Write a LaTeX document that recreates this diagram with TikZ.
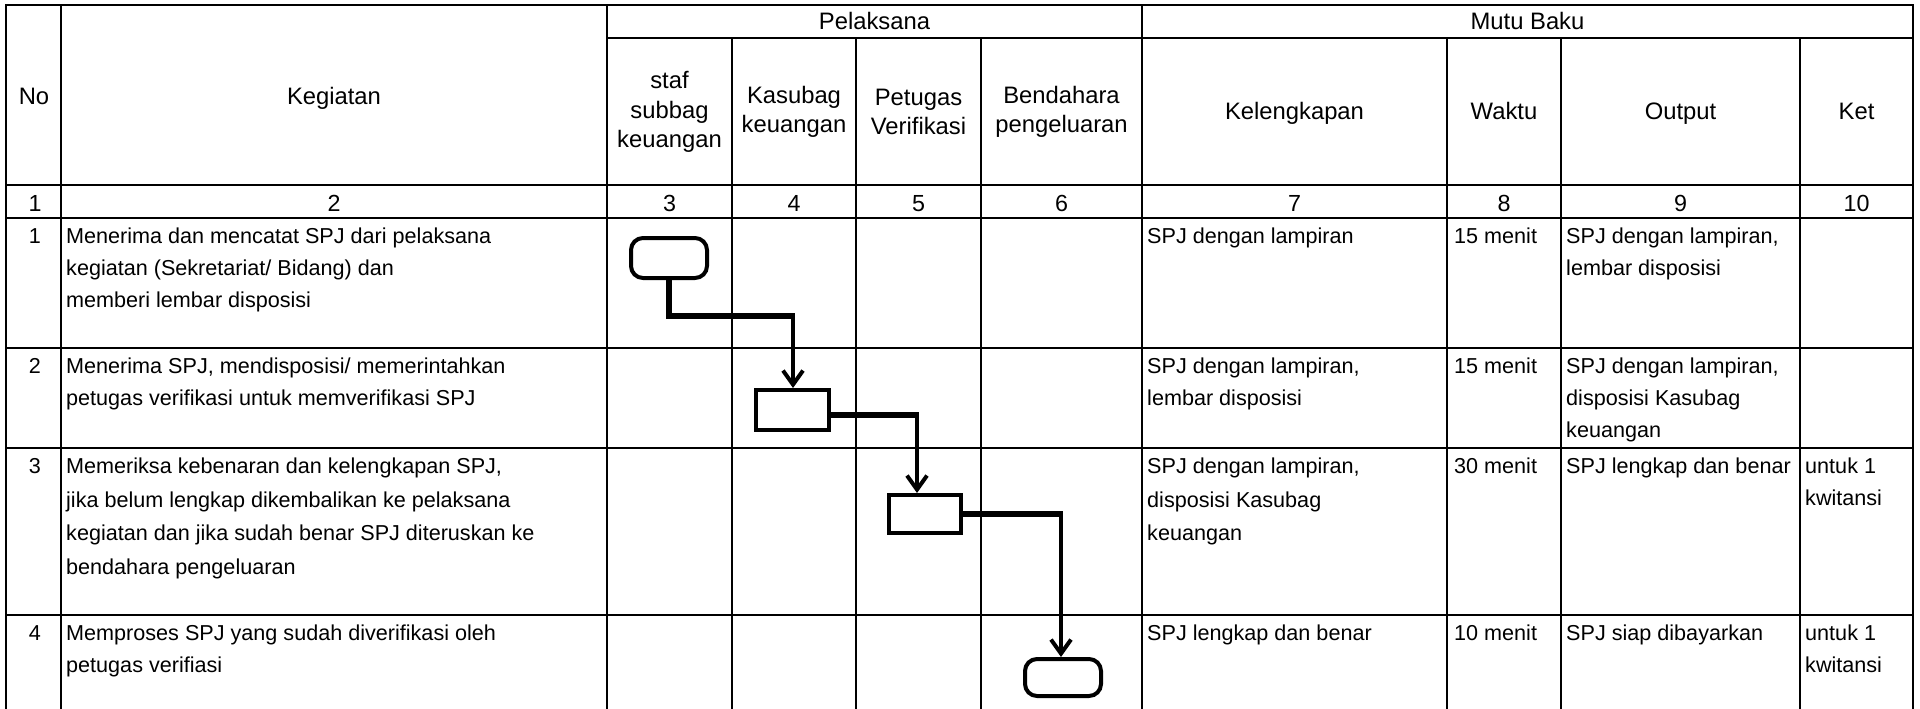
\documentclass[tikz,border=0pt]{standalone}
\usepackage{fontspec}
\setmainfont{Liberation Sans}
\usetikzlibrary{arrows.meta}

\begin{document}
\begin{tikzpicture}[x=1pt, y=-1pt,
    grid/.style={line width=2pt},
    headtext/.style={font=\fontsize{23.8}{29.5}\selectfont, align=center, inner sep=0pt},
    numtext/.style={font=\fontsize{23.3}{26}\selectfont, inner sep=0pt},
    celltext/.style={font=\fontsize{21.6}{32}\selectfont, align=left, anchor=north west, inner sep=0pt},
    wideleading/.style={font=\fontsize{21.6}{33.5}\selectfont},
    terminal/.style={draw, line width=4pt, rounded corners=12pt, minimum width=76pt, minimum height=40pt, inner sep=0pt},
    process/.style={draw, line width=4pt, minimum width=73pt, minimum height=40pt, inner sep=0pt},
    flowline/.style={line width=6pt},
    flowarrow/.style={line width=4pt, -{Straight Barb[length=14pt, width=20pt]}}]

\newcommand\ColA{6}
\newcommand\ColB{61}
\newcommand\ColC{607}
\newcommand\ColD{732}
\newcommand\ColE{856}
\newcommand\ColF{981}
\newcommand\ColG{1142}
\newcommand\ColH{1447}
\newcommand\ColI{1561}
\newcommand\ColJ{1800}
\newcommand\ColK{1913}

\newcommand\RowA{5}
\newcommand\RowB{38}
\newcommand\RowC{185}
\newcommand\RowD{218}
\newcommand\RowE{348}
\newcommand\RowF{448}
\newcommand\RowG{615}
\newcommand\RowEnd{709}

\fill[white] (0,0) rectangle (1920,709);
\useasboundingbox (0,0) rectangle (1920,709);

%% table frame
\draw[grid] (\ColA,\RowEnd) -- (\ColA,\RowA) -- (\ColK,\RowA) -- (\ColK,\RowEnd);

\draw[grid] (\ColC,\RowB) -- (\ColK,\RowB);
\draw[grid] (\ColA,\RowC) -- (\ColK,\RowC);
\draw[grid] (\ColA,\RowD) -- (\ColK,\RowD);
\draw[grid] (\ColA,\RowE) -- (\ColK,\RowE);
\draw[grid] (\ColA,\RowF) -- (\ColK,\RowF);
\draw[grid] (\ColA,\RowG) -- (\ColK,\RowG);

\draw[grid] (\ColB,\RowA) -- (\ColB,\RowEnd);
\draw[grid] (\ColC,\RowA) -- (\ColC,\RowEnd);
\draw[grid] (\ColG,\RowA) -- (\ColG,\RowEnd);

\draw[grid] (\ColD,\RowB) -- (\ColD,\RowEnd);
\draw[grid] (\ColE,\RowB) -- (\ColE,\RowEnd);
\draw[grid] (\ColF,\RowB) -- (\ColF,\RowEnd);
\draw[grid] (\ColH,\RowB) -- (\ColH,\RowEnd);
\draw[grid] (\ColI,\RowB) -- (\ColI,\RowEnd);
\draw[grid] (\ColJ,\RowB) -- (\ColJ,\RowEnd);

%% header
\node[headtext, anchor=base] (hNo) at (34,104) {No};
\node[headtext, anchor=base] (hKegiatan) at (334,104) {Kegiatan};
\node[headtext, anchor=base] (hPelaksana) at (874.5,30) {Pelaksana};
\node[headtext, anchor=base] (hMutu) at (1527.5,30) {Mutu Baku};

\node[headtext] (hStaf) at (669.5,112) {staf\\subbag\\keuangan};
\node[headtext] (hKasubag) at (794,112) {Kasubag\\keuangan};
\node[headtext] (hPetugas) at (918.5,112) {Petugas\\Verifikasi};
\node[headtext] (hBendahara) at (1061.5,112) {Bendahara\\pengeluaran};

\node[headtext, anchor=base] (hKelengkapan) at (1294.5,119.5) {Kelengkapan};
\node[headtext, anchor=base] (hWaktu) at (1504,119.5) {Waktu};
\node[headtext, anchor=base] (hOutput) at (1680.5,119.5) {Output};
\node[headtext, anchor=base] (hKet) at (1856.5,119.5) {Ket};

%% column numbers
\node[numtext, anchor=base] (n1) at (35,211.5) {1};
\node[numtext, anchor=base] (n2) at (334,211.5) {2};
\node[numtext, anchor=base] (n3) at (669.5,211.5) {3};
\node[numtext, anchor=base] (n4) at (794,211.5) {4};
\node[numtext, anchor=base] (n5) at (918.5,211.5) {5};
\node[numtext, anchor=base] (n6) at (1061.5,211.5) {6};
\node[numtext, anchor=base] (n7) at (1294.5,211.5) {7};
\node[numtext, anchor=base] (n8) at (1504,211.5) {8};
\node[numtext, anchor=base] (n9) at (1680.5,211.5) {9};
\node[numtext, anchor=base] (n10) at (1856.5,211.5) {10};

%% row 1
\node[celltext, anchor=north] (no1) at (35,\RowD+10) {1};
\node[celltext] (keg1) at (\ColB+5,\RowD+10) {Menerima dan mencatat SPJ dari pelaksana\\kegiatan (Sekretariat/ Bidang) dan\\memberi lembar disposisi};
\node[celltext] (kel1) at (\ColG+5,\RowD+10) {SPJ dengan lampiran};
\node[celltext] (wkt1) at (\ColH+7,\RowD+10) {15 menit};
\node[celltext] (out1) at (\ColI+5,\RowD+10) {SPJ dengan lampiran,\\lembar disposisi};

%% row 2
\node[celltext, anchor=north] (no2) at (35,\RowE+10) {2};
\node[celltext] (keg2) at (\ColB+5,\RowE+10) {Menerima SPJ, mendisposisi/ memerintahkan\\petugas verifikasi untuk memverifikasi SPJ};
\node[celltext] (kel2) at (\ColG+5,\RowE+10) {SPJ dengan lampiran,\\lembar disposisi};
\node[celltext] (wkt2) at (\ColH+7,\RowE+10) {15 menit};
\node[celltext] (out2) at (\ColI+5,\RowE+10) {SPJ dengan lampiran,\\disposisi Kasubag\\keuangan};

%% row 3
\node[celltext, anchor=north] (no3) at (35,\RowF+10) {3};
\node[celltext, wideleading] (keg3) at (\ColB+5,\RowF+10) {Memeriksa kebenaran dan kelengkapan SPJ,\\jika belum lengkap dikembalikan ke pelaksana\\kegiatan dan jika sudah benar SPJ diteruskan ke\\bendahara pengeluaran};
\node[celltext, wideleading] (kel3) at (\ColG+5,\RowF+10) {SPJ dengan lampiran,\\disposisi Kasubag\\keuangan};
\node[celltext] (wkt3) at (\ColH+7,\RowF+10) {30 menit};
\node[celltext] (out3) at (\ColI+5,\RowF+10) {SPJ lengkap dan benar};
\node[celltext] (ket3) at (\ColJ+5,\RowF+10) {untuk 1\\kwitansi};

%% row 4
\node[celltext, anchor=north] (no4) at (35,\RowG+10) {4};
\node[celltext] (keg4) at (\ColB+5,\RowG+10) {Memproses SPJ yang sudah diverifikasi oleh\\petugas verifiasi};
\node[celltext] (kel4) at (\ColG+5,\RowG+10) {SPJ lengkap dan benar};
\node[celltext] (wkt4) at (\ColH+7,\RowG+10) {10 menit};
\node[celltext] (out4) at (\ColI+5,\RowG+10) {SPJ siap dibayarkan};
\node[celltext] (ket4) at (\ColJ+5,\RowG+10) {untuk 1\\kwitansi};

%% flow
\node[terminal] (start) at (669,258) {};
\node[process] (kasubag) at (792.5,410) {};
\node[process, minimum width=72pt, minimum height=38pt] (petugas) at (925,514) {};
\node[terminal, minimum height=37pt] (finish) at (1063,677.5) {};

\coordinate (bendA) at (669,316);
\coordinate (bendB) at (795,316);
\draw[flowline] (start.south) -- (bendA) -- (bendB);
\draw[flowarrow] (793,316) -- (kasubag.north -| 793,0);

\coordinate (bendC) at (919,414.5);
\draw[flowline] (kasubag.east |- bendC) -- (bendC);
\draw[flowarrow] (917,414.5) -- (petugas.north -| 917,0);

\coordinate (bendD) at (1063,514);
\draw[flowline] (petugas.east) -- (bendD);
\draw[flowarrow] (1061,514) -- (finish.north -| 1061,0);

\end{tikzpicture}
\end{document}
